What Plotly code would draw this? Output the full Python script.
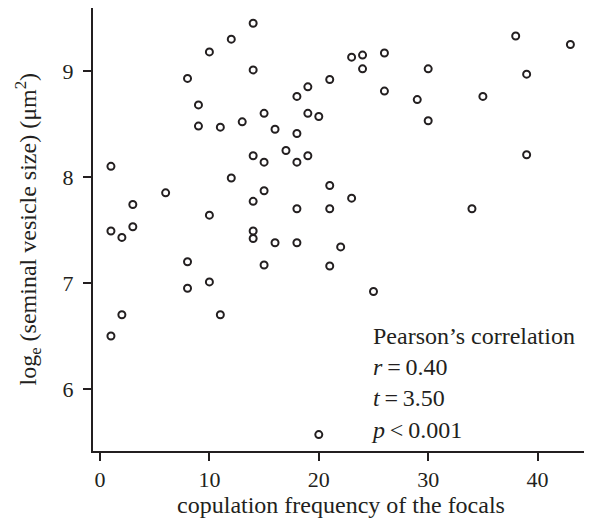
import plotly.graph_objects as go

copulation_frequency = [14, 12, 10, 14, 8, 21, 19, 18, 9, 15, 19, 20, 9, 11, 13, 16, 18, 17,
                        14, 15, 18, 19, 1, 12, 21, 6, 15, 14, 3, 10, 18, 21, 1, 2, 3, 14, 14,
                        16, 18, 22, 8, 15, 21, 8, 10, 2, 11, 1, 20, 38, 43, 23, 24, 26, 24,
                        30, 39, 26, 29, 35, 30, 39, 23, 34, 25]
log_vesicle_size = [9.45, 9.30, 9.18, 9.01, 8.93, 8.92, 8.85, 8.76, 8.68, 8.60, 8.60, 8.57,
                    8.48, 8.47, 8.52, 8.45, 8.41, 8.25, 8.20, 8.14, 8.14, 8.20, 8.10, 7.99,
                    7.92, 7.85, 7.87, 7.77, 7.74, 7.64, 7.70, 7.70, 7.49, 7.43, 7.53, 7.49,
                    7.42, 7.38, 7.38, 7.34, 7.20, 7.17, 7.16, 6.95, 7.01, 6.70, 6.70, 6.50,
                    5.57, 9.33, 9.25, 9.13, 9.15, 9.17, 9.02, 9.02, 8.97, 8.81, 8.73, 8.76,
                    8.53, 8.21, 7.80, 7.70, 6.92]

x_ticks = [0, 10, 20, 30, 40]
y_ticks = [6, 7, 8, 9]
stats_lines = ["Pearson\u2019s correlation",
               "<i>r</i>\u2009=\u20090.40",
               "<i>t</i>\u2009=\u20093.50",
               "<i>p</i>\u2009<\u20090.001"]

ink = "#231f20"
family = "Liberation Serif, Times New Roman, serif"

fig = go.Figure()
fig.add_trace(go.Scatter(
    x=copulation_frequency, y=log_vesicle_size, mode="markers",
    marker=dict(symbol="circle-open", size=7, color=ink, line=dict(width=2, color=ink)),
    showlegend=False, hoverinfo="x+y"))

fig.add_annotation(
    x=24.6, y=6.06, xref="x", yref="y", xanchor="left", yanchor="middle",
    text="<br>".join(stats_lines), showarrow=False, align="left",
    font=dict(family=family, size=24, color=ink))

fig.add_annotation(
    x=-0.133, xref="paper", y=0.50, yref="paper", xanchor="center", yanchor="middle",
    text="log<sub>e</sub> (seminal vesicle size) (\u03bcm<sup>2</sup>)", textangle=-90,
    showarrow=False, font=dict(family=family, size=24, color=ink))

fig.update_layout(
    width=584, height=514,
    margin=dict(l=85, r=3, t=0, b=71),
    paper_bgcolor="white", plot_bgcolor="white",
    font=dict(family=family, size=22, color=ink),
    xaxis=dict(range=[-0.64, 44.7], tickvals=x_ticks, showline=True, linecolor=ink,
               linewidth=2, ticks="outside", ticklen=8, tickwidth=2, tickcolor=ink,
               showgrid=False, zeroline=False,
               title=dict(text="copulation frequency of the focals", standoff=4,
                          font=dict(family=family, size=24, color=ink))),
    yaxis=dict(range=[5.415, 9.594], tickvals=y_ticks, showline=True, linecolor=ink,
               linewidth=2, ticks="outside", ticklen=8, tickwidth=2, tickcolor=ink,
               showgrid=False, zeroline=False, ticklabelstandoff=5),
)

fig.write_html("out.html")
